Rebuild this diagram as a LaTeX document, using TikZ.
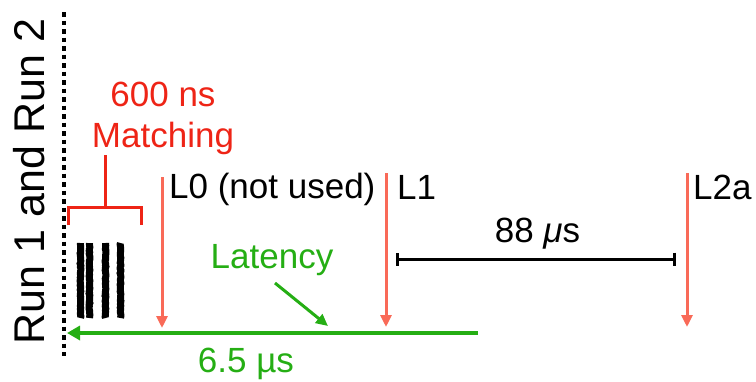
\documentclass[tikz,border=0pt]{standalone}
\usepackage{fontspec}
\setmainfont{Liberation Sans}
\usetikzlibrary{arrows.meta,decorations.pathmorphing}
\definecolor{salmon}{HTML}{F96A58}
\definecolor{mred}{HTML}{EE2416}
\definecolor{mgreen}{HTML}{25AE14}
\tikzset{
  lbl/.style={inner sep=0pt, font=\fontsize{35}{35}\selectfont},
  trig/.style={draw=salmon, line width=3pt, -{Triangle[length=12pt,width=11pt]}},
  garrow/.style={draw=mgreen, line width=3.5pt, -{Triangle[length=13pt,width=14pt]}},
  bars/.style={line width=7pt, black, decorate, decoration={random steps, segment length=1.5pt, amplitude=0.4pt}},
}
\begin{document}
\begin{tikzpicture}[x=1pt,y=-1pt]
\useasboundingbox (0,0) rectangle (756,381);
% dashed separator
\coordinate (dtop) at (64,12);
\coordinate (dbot) at (64,356);
\draw[line width=3.5pt, dash pattern=on 4.5pt off 4pt] (dtop) -- (dbot);
\node[inner sep=0pt, rotate=90, anchor=base, font=\fontsize{43}{43}\selectfont] (run) at (44,181.5) {Run 1 and Run 2};
% matching
\node[lbl, text=mred, anchor=base] (t600) at (163,106) {600 ns};
\node[lbl, text=mred, anchor=base] (tmatch) at (163,147) {Matching};
\coordinate (bstem) at (105,155);
\coordinate (bmid) at (105,207.5);
\coordinate (bl) at (68,225);
\coordinate (br) at (141,225);
\draw[mred, line width=3pt] (bstem) -- (bmid);
\draw[mred, line width=3pt] (bl) |- (bmid) -| (br);
% bars
\foreach \x in {80.5,89.5,105.5,120.5}{
  \draw[bars] (\x,243) -- (\x,318);
}
% triggers
\coordinate (l0a) at (162,177);
\coordinate (l0b) at (162,328);
\coordinate (l1a) at (386,173);
\coordinate (l1b) at (386,327);
\coordinate (l2a) at (687,173);
\coordinate (l2b) at (687,327);
\draw[trig] (l0a) -- (l0b);
\draw[trig] (l1a) -- (l1b);
\draw[trig] (l2a) -- (l2b);
\node[lbl, anchor=base west] (tl0) at (169,198) {L0 (not used)};
\node[lbl, anchor=base west] (tl1) at (397,199) {L1};
\node[lbl, anchor=base west] (tl2) at (693,199) {L2a};
% 88 us
\coordinate (ma) at (396,259);
\coordinate (mb) at (676,259);
\draw[line width=3pt, {Bar[width=13pt]}-{Bar[width=13pt]}] (ma) -- (mb);
\node[lbl, anchor=base] (t88) at (537.5,242) {88 {\itshape μ}s};
% latency
\coordinate (ga) at (478,333);
\coordinate (gb) at (67,333);
\draw[garrow] (ga) -- (gb);
\node[lbl, text=mgreen, anchor=base] (tlat) at (272,268) {Latency};
\coordinate (sa) at (275,283);
\coordinate (sb) at (328,326);
\draw[draw=mgreen, line width=3pt, -{Triangle[length=12pt,width=11pt]}] (sa) -- (sb);
\node[lbl, text=mgreen, anchor=base] (t65) at (246,372) {6.5 µs};
\end{tikzpicture}
\end{document}
